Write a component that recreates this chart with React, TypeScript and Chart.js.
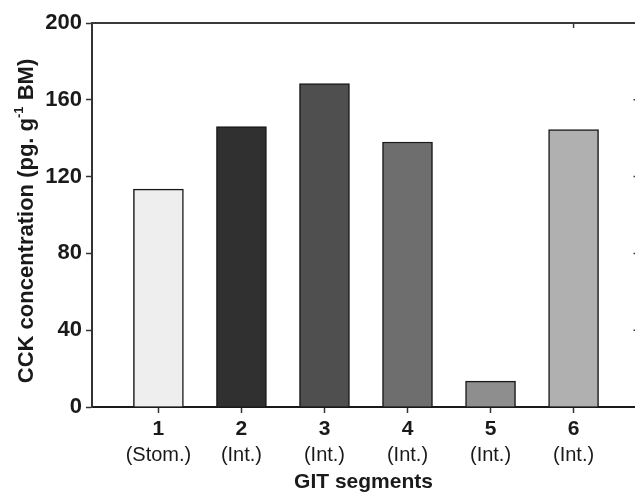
import React, { useEffect, useRef } from "react";
import { Chart, registerables } from "chart.js";
Chart.register(...registerables);

const segments = [1, 2, 3, 4, 5, 6];
const regionLabels = ["(Stom.)", "(Int.)", "(Int.)", "(Int.)", "(Int.)", "(Int.)"];
const cckValues = [113.5, 146, 168.5, 138, 13.5, 144.5];
const barColors = ["#eeeeee", "#303030", "#4f4f4f", "#6e6e6e", "#8e8e8e", "#b0b0b0"];
const yTicks = [0, 40, 80, 120, 160, 200];
const xTitle = "GIT segments";
const yTitleMain = "CCK concentration (pg. g";
const yTitleSup = "-1";
const yTitleEnd = " BM)";

const FAMILY = "'Liberation Sans', Arial, Helvetica, sans-serif";
const INK = "#1a1a1a";
const X_MIN = 0.2;
const X_MAX = 6.74;

const framePlugin = {
  id: "framePlugin",
  afterDraw(chart: any) {
    const { ctx, chartArea } = chart;
    const xs = chart.scales.x;
    const ys = chart.scales.y;
    ctx.save();
    ctx.strokeStyle = "#3a3a3a";
    ctx.lineWidth = 2;
    ctx.beginPath();
    ctx.moveTo(chartArea.left - 1, chartArea.top);
    ctx.lineTo(chartArea.right, chartArea.top);
    ctx.stroke();
    // top inward tick at last segment
    ctx.lineWidth = 1.5;
    const tx = xs.getPixelForValue(segments[segments.length - 1]);
    ctx.beginPath();
    ctx.moveTo(tx, chartArea.top);
    ctx.lineTo(tx, chartArea.top + 5);
    ctx.stroke();
    // right inward ticks (mostly off-canvas)
    yTicks.slice(1, -1).forEach((v) => {
      const py = ys.getPixelForValue(v);
      ctx.beginPath();
      ctx.moveTo(chartArea.right - 1.5, py);
      ctx.lineTo(chartArea.right + 4, py);
      ctx.stroke();
    });
    // y title with superscript
    const mainFont = `bold 22px ${FAMILY}`;
    const supFont = `bold 13px ${FAMILY}`;
    ctx.font = mainFont;
    const w1 = ctx.measureText(yTitleMain).width;
    const w3 = ctx.measureText(yTitleEnd).width;
    ctx.font = supFont;
    const w2 = ctx.measureText(yTitleSup).width;
    const total = w1 + w2 + w3;
    ctx.translate(33, 221);
    ctx.rotate(-Math.PI / 2);
    ctx.fillStyle = INK;
    ctx.textBaseline = "alphabetic";
    ctx.textAlign = "left";
    let x0 = -total / 2;
    ctx.font = mainFont;
    ctx.fillText(yTitleMain, x0, 0);
    x0 += w1;
    ctx.font = supFont;
    ctx.fillText(yTitleSup, x0, -10);
    x0 += w2;
    ctx.font = mainFont;
    ctx.fillText(yTitleEnd, x0, 0);
    ctx.restore();
  },
};

export default function App() {
  const ref = useRef<HTMLCanvasElement | null>(null);
  useEffect(() => {
    if (!ref.current) return;
    const chart = new Chart(ref.current, {
      type: "bar",
      data: {
        datasets: [
          {
            data: segments.map((s, i) => ({ x: s, y: cckValues[i] })) as any,
            backgroundColor: barColors,
            borderColor: INK,
            borderWidth: 1.5,
            barThickness: 50,
            xAxisID: "x",
            yAxisID: "y",
          },
        ],
      },
      options: {
        responsive: false,
        animation: false,
        layout: { padding: { top: 23, right: 0, left: 0, bottom: 0 } },
        plugins: { legend: { display: false }, tooltip: { enabled: false } },
        scales: {
          x: {
            type: "linear",
            position: "bottom",
            min: X_MIN,
            max: X_MAX,
            offset: false,
            weight: 0,
            afterBuildTicks: (s: any) => {
              s.ticks = segments.map((v) => ({ value: v }));
            },
            afterFit: (s: any) => {
              s.height = 36;
            },
            ticks: {
              callback: (v: any) => String(v),
              font: { family: FAMILY, size: 21, weight: "bold" },
              color: INK,
              padding: 4,
              maxRotation: 0,
              autoSkip: false,
            },
            grid: { drawOnChartArea: false, offset: false, tickLength: 6, tickWidth: 1.5, tickColor: "#333333" },
            border: { color: INK, width: 2 },
          } as any,
          x2: {
            type: "linear",
            position: "bottom",
            min: X_MIN,
            max: X_MAX,
            offset: false,
            weight: 1,
            afterBuildTicks: (s: any) => {
              s.ticks = segments.map((v) => ({ value: v }));
            },
            afterFit: (s: any) => {
              s.height = 50;
            },
            ticks: {
              callback: (v: any) => regionLabels[Math.round(v) - 1],
              font: { family: FAMILY, size: 20 },
              color: INK,
              padding: 0,
              maxRotation: 0,
              autoSkip: false,
            },
            grid: { display: false, drawTicks: false, offset: false },
            border: { display: false },
            title: {
              display: true,
              text: xTitle,
              font: { family: FAMILY, size: 21, weight: "bold" },
              color: INK,
              padding: { top: 0, bottom: -2 },
            },
          } as any,
          y: {
            min: 0,
            max: 200,
            afterBuildTicks: (s: any) => {
              s.ticks = yTicks.map((v) => ({ value: v }));
            },
            afterFit: (s: any) => {
              s.width = 92;
            },
            ticks: {
              font: { family: FAMILY, size: 22, weight: "bold" },
              color: INK,
              padding: 4,
            },
            grid: { drawOnChartArea: false, tickLength: 6, tickWidth: 1.5, tickColor: "#333333" },
            border: { color: "#333333", width: 2 },
          } as any,
        },
      },
      plugins: [framePlugin],
    });
    return () => chart.destroy();
  }, []);
  return (
    <div style={{ position: "absolute", left: 0, top: 0, width: 635, height: 493, background: "#fff" }}>
      <canvas ref={ref} width={635} height={493} style={{ width: 635, height: 493, display: "block" }} />
    </div>
  );
}
